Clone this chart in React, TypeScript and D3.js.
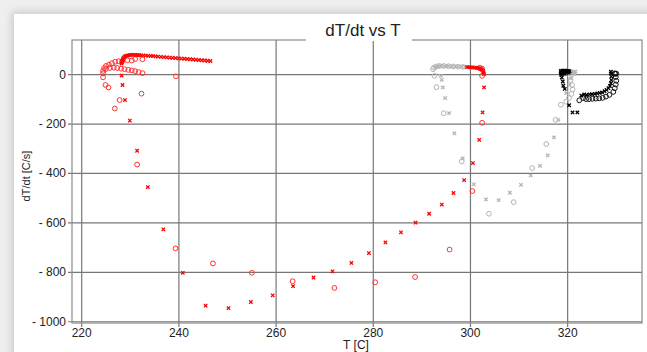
import React from 'react';
import * as d3 from 'd3';

// [T (C), dT/dt (C/s)]
const redCrosses: [number, number][] = [
  [228.2, 45], [228.3, 52], [228.4, 58], [228.5, 63], [228.6, 68], [228.8, 72], [229.0, 75],
  [229.3, 77], [229.6, 78], [229.9, 79], [230.2, 80], [230.6, 80], [231.0, 80], [231.4, 79],
  [231.8, 79], [232.2, 78], [232.7, 78], [233.2, 77], [233.7, 76], [234.2, 76], [234.7, 75],
  [235.2, 74], [235.7, 73], [236.3, 72], [236.9, 71], [237.5, 70], [238.1, 69], [238.7, 68],
  [239.3, 67], [239.9, 66], [240.5, 65], [241.1, 64], [241.7, 63], [242.3, 62], [242.9, 61],
  [243.5, 60], [244.1, 59], [244.7, 58], [245.3, 57], [245.9, 56], [246.5, 55],
  [228.2, -4], [228.4, -42], [228.9, -103], [229.9, -186], [231.4, -308], [233.6, -455],
  [236.8, -626], [240.8, -802], [245.5, -935], [250.2, -945], [254.8, -920], [259.3, -893],
  [263.5, -856], [267.7, -821], [271.6, -796], [275.5, -762], [279.1, -722], [282.5, -679],
  [285.7, -638], [288.7, -599], [291.5, -563], [294.1, -526], [296.5, -479], [298.7, -427],
  [300.5, -358], [301.8, -264], [302.5, -153], [302.8, -52], [302.8, 2],
  [299.3, 30], [299.7, 30], [300.1, 29], [300.5, 29], [300.9, 28], [301.3, 27], [301.6, 26],
  [301.9, 24], [302.2, 22], [302.4, 19], [302.6, 15], [302.7, 10],
];

const redCircles: [number, number][] = [
  [224.4, 5], [224.4, 15], [224.6, 26], [225.0, 35], [225.6, 40], [226.2, 46], [226.9, 52],
  [227.6, 54], [228.3, 53], [229.4, 58], [230.3, 57], [231.0, 63], [232.5, 62],
  [225.0, 23], [225.8, 27], [226.6, 28], [227.3, 27], [228.1, 24], [228.8, 22], [229.6, 19],
  [230.3, 17], [231.0, 14], [231.7, 10], [232.5, 6],
  [224.4, -11], [224.9, -42], [225.5, -52], [226.8, -137], [227.8, -103], [232.3, -77],
  [239.4, -7], [231.4, -364], [239.3, -703], [247.0, -764], [255.0, -802], [263.4, -836],
  [272.0, -863], [280.4, -840], [288.6, -819], [295.7, -708], [300.4, -471], [302.4, -195],
  [302.4, -5], [301.9, 28], [302.4, 24],
];

const grayCrosses: [number, number][] = [
  [292.8, 30], [293.4, 34], [294.0, 35], [294.7, 34], [295.4, 34], [296.1, 33], [296.8, 33],
  [297.5, 32], [298.2, 32], [298.9, 31],
  [293.9, -5], [294.1, -21], [294.3, -52], [294.8, -95], [295.6, -156], [296.7, -238],
  [298.4, -339], [300.7, -444], [303.2, -505], [305.8, -508], [308.1, -478], [310.4, -446],
  [312.4, -408], [314.3, -369], [315.9, -327], [317.2, -254], [318.1, -183], [319.7, -75],
  [320.4, -40], [320.7, -15], [320.8, 10], [321.2, 12], [321.6, 12], [321.4, 4],
];

const grayCircles: [number, number][] = [
  [292.3, 22], [292.5, 28], [293.0, 33], [293.6, 35], [294.5, 35], [295.5, 34], [296.5, 33],
  [297.5, 32], [298.5, 31],
  [292.6, -5], [293.0, -51], [294.5, -156], [298.2, -351], [303.8, -563], [308.9, -516],
  [312.7, -378], [315.6, -281], [317.5, -183], [318.6, -122], [319.7, -110], [320.3, -95],
  [320.8, -78], [321.0, -60], [320.9, -42], [320.6, -22], [321.2, 8], [320.9, 2],
];

const blackCrosses: [number, number][] = [
  [318.6, 15], [318.9, 16], [319.2, 16], [319.5, 16], [319.8, 15], [320.1, 15], [320.4, 14],
  [318.6, 10], [319.0, 9], [319.4, 9], [319.8, 9], [320.2, 8], [318.6, 4], [319.0, 3],
  [319.4, 3], [318.7, -2], [318.8, -12], [319.0, -28], [319.1, -45], [319.4, -58],
  [320.3, -124], [321.0, -153], [322.0, -153],
  [322.8, -85], [323.4, -80], [323.9, -82], [324.5, -80], [325.0, -79], [325.6, -78],
  [326.1, -76], [326.6, -74], [327.1, -72], [327.6, -67], [328.0, -62], [328.4, -55],
  [328.7, -46], [328.9, -35], [329.0, -22], [329.0, -8], [328.9, 5], [328.9, 12],
];

const blackCircles: [number, number][] = [
  [322.4, -104], [323.2, -95], [323.8, -99], [324.4, -99], [325.1, -98], [325.8, -97],
  [326.5, -96], [327.2, -94], [327.9, -89], [328.6, -82], [329.4, -70], [329.7, -55],
  [329.9, -40], [330.0, -25], [329.9, -10], [329.8, 3], [329.7, 5], [330.0, 4],
];

const xTicks = [220, 240, 260, 280, 300, 320];
const yTicks = [0, -200, -400, -600, -800, -1000];

const W = 647;
const H = 352;
const plot = { left: 72, right: 642, top: 40, bottom: 323 };

const x = d3.scaleLinear().domain([218, 335.3]).range([plot.left, plot.right]);
const y = d3.scaleLinear().domain([140, -1005]).range([plot.top, plot.bottom]);

const fmt = (v: number) => (v < 0 ? `- ${Math.abs(v)}` : `${v}`);

const crossPath = 'M-1.7,-1.7L1.7,1.7M-1.7,1.7L1.7,-1.7';

const Crosses = ({ pts, color }: { pts: [number, number][]; color: string }) => (
  <g>
    {pts.map((p, i) => (
      <path
        key={i}
        d={crossPath}
        transform={`translate(${x(p[0])},${y(p[1])})`}
        stroke={color}
        strokeWidth={1.3}
        fill="none"
      />
    ))}
  </g>
);

const Circles = ({ pts, color }: { pts: [number, number][]; color: string }) => (
  <g>
    {pts.map((p, i) => (
      <circle key={i} cx={x(p[0])} cy={y(p[1])} r={2.4} stroke={color} strokeWidth={1} fill="none" />
    ))}
  </g>
);

export default function App() {
  const font = '"Liberation Sans", Arial, sans-serif';
  return (
    <svg
      width={W}
      height={H}
      style={{ position: 'absolute', left: 0, top: 0, display: 'block' }}
      fontFamily={font}
    >
      <defs>
        <filter id="shadow" x="-5%" y="-5%" width="110%" height="110%">
          <feGaussianBlur stdDeviation="4" />
        </filter>
        <clipPath id="clip">
          <rect x={plot.left} y={plot.top} width={plot.right - plot.left} height={plot.bottom - plot.top} />
        </clipPath>
      </defs>
      <rect width={W} height={H} fill="#efefef" />
      <rect x={12} y={12} width={W} height={H} fill="#c8c8c8" filter="url(#shadow)" />
      <rect x={14} y={14} width={W} height={H} fill="#ffffff" />

      {/* grid, with short ticks outside the frame */}
      <g stroke="#777" strokeWidth={1.2}>
        {xTicks.map(t => (
          <line key={t} x1={x(t)} x2={x(t)} y1={plot.top} y2={plot.bottom + 4} />
        ))}
        {yTicks.map(t => (
          <line key={t} x1={plot.left - 4} x2={plot.right} y1={y(t)} y2={y(t)} />
        ))}
      </g>
      <rect
        x={plot.left}
        y={plot.top}
        width={plot.right - plot.left}
        height={plot.bottom - plot.top}
        fill="none"
        stroke="#8a8a8a"
        strokeWidth={1.2}
      />

      <g clipPath="url(#clip)">
        <Circles pts={grayCircles} color="#b4b4b4" />
        <Crosses pts={grayCrosses} color="#b4b4b4" />
        <Circles pts={redCircles} color="#ff3030" />
        <Crosses pts={redCrosses} color="#ff0000" />
        <Circles pts={blackCircles} color="#111" />
        <Crosses pts={blackCrosses} color="#000" />
      </g>

      {/* title with white background */}
      <rect x={306} y={16} width={106} height={25} fill="#ffffff" />
      <text x={363} y={36} textAnchor="middle" fontSize={17} fill="#222">
        dT/dt vs T
      </text>

      {/* tick labels */}
      <g fontSize={12} fill="#222">
        {xTicks.map(t => (
          <text key={t} x={x(t)} y={337} textAnchor="middle">
            {t}
          </text>
        ))}
        {yTicks.map(t => (
          <text key={t} x={66} y={y(t) + 4} textAnchor="end">
            {fmt(t)}
          </text>
        ))}
      </g>

      <text x={356} y={349} textAnchor="middle" fontSize={12} fill="#222">
        T [C]
      </text>
      <text
        transform="translate(30,176) rotate(-90)"
        textAnchor="middle"
        fontSize={11}
        fill="#222"
      >
        dT/dt [C/s]
      </text>
    </svg>
  );
}
